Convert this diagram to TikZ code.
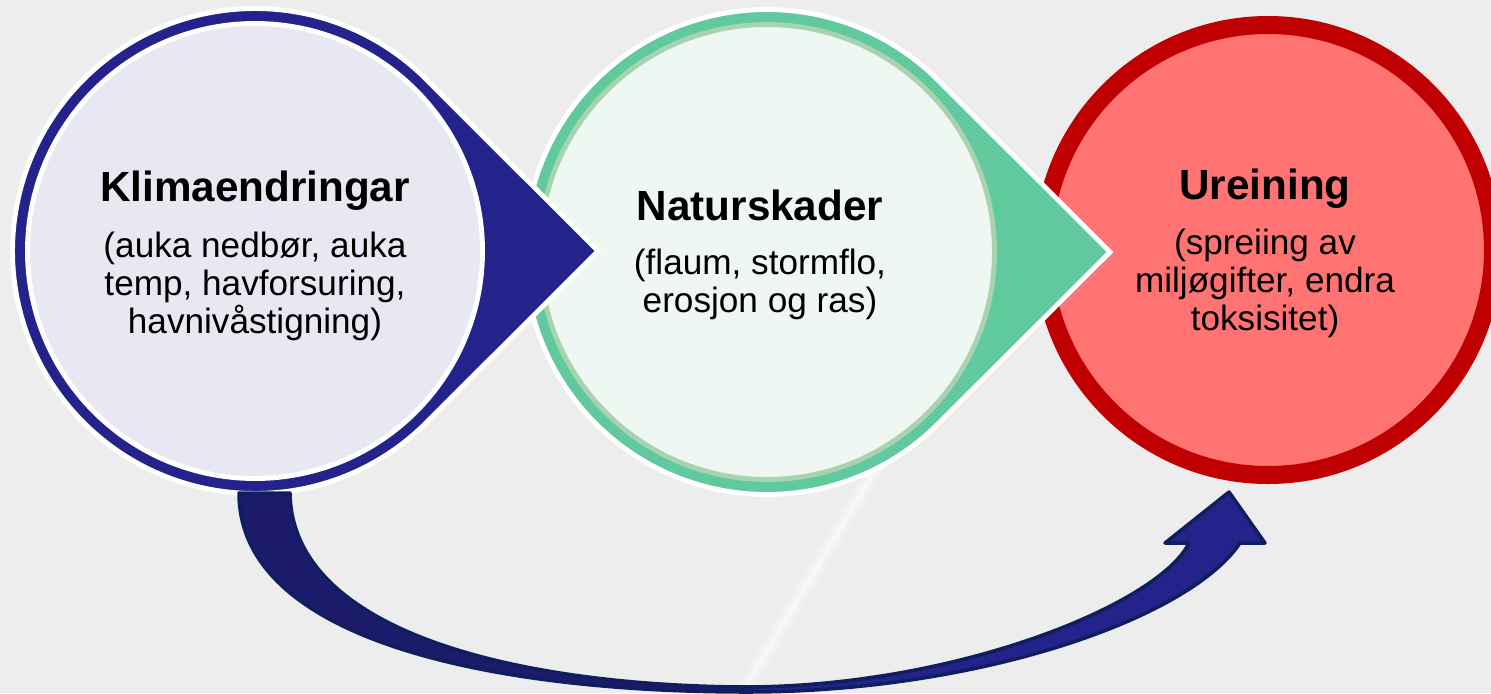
\documentclass[tikz,border=0pt]{standalone}
\usepackage{fontspec}
\setmainfont{Liberation Sans}
\usetikzlibrary{calc}
\definecolor{bgGray}{HTML}{EDEDED}
\definecolor{klimaBlue}{HTML}{23238B}
\definecolor{klimaDark}{HTML}{1C1A6B}
\definecolor{klimaFill}{HTML}{E8E8F2}
\definecolor{naturGreen}{HTML}{60C99E}
\definecolor{naturSage}{HTML}{A9D3AF}
\definecolor{naturFill}{HTML}{EEF7F1}
\definecolor{ureinRed}{HTML}{C00000}
\definecolor{ureinFill}{HTML}{FF7373}
\definecolor{arrowLine}{HTML}{0F1F5E}
\tikzstyle{title} = [font=\fontsize{12}{14}\selectfont\bfseries, inner sep=0pt]
\tikzstyle{sub} = [font=\fontsize{10}{10.8}\selectfont, align=center, inner sep=0pt]
\tikzstyle{rim} = [draw=white, line width=1.4pt, line join=miter]
% teardrop: circle with a point to the right
\newcommand{\drop}[2]{%
  \filldraw[fill=#2, rim] ($(#1)+(45:242.5)$) arc[start angle=45, end angle=315, radius=242.5]
    -- ($(#1)+(343,0)$) -- cycle;}

\begin{document}
\begin{tikzpicture}[x=0.01cm, y=0.01cm]
      \useasboundingbox (0,0) rectangle (1491,693);
      \fill[bgGray] (0,0) rectangle (1491,693);
      \draw[white, opacity=0.3, line width=4pt] (1010,450)--(742,0);
      \draw[white, opacity=0.4, line width=1.5pt] (1010,450)--(742,0);
      %%%%%%%%%%%%%%%%%%%%%%%%%%%%%%%%%%%%%%%
      \coordinate (c1) at (255,442);
      \coordinate (c2) at (767,441);
      \coordinate (c3) at (1268,443);
      % Ureining
      \filldraw[fill=ureinFill, draw=ureinRed, line width=0.18cm] (c3) circle[radius=225];
      % Naturskader
      \drop{c2}{naturGreen}
      \filldraw[fill=naturFill, draw=naturSage, line width=1.4pt] (c2) circle[radius=227.5];
      % Klimaendringar
      \drop{c1}{klimaBlue}
      \filldraw[fill=klimaFill, draw=white, line width=1.4pt] (c1) circle[radius=227.5];
      %%%%%%%%%%%%%%%%%%%%%%%%%%%%%%%%%%%%%%%
      \node[title] (klima) at (255,502) {Klimaendringar};
      \node[sub] (klimaSub) at (255,407) {(auka nedbør, auka\\temp, havforsuring,\\havnivåstigning)};
      \node[title] (natur) at (760,488) {Naturskader};
      \node[sub] (naturSub) at (760,409) {(flaum, stormflo,\\erosjon og ras)};
      \node[title] (urein) at (1265,504) {Ureining};
      \node[sub] (ureinSub) at (1265,410) {(spreiing av\\miljøgifter, endra\\toksisitet)};
      %%%%%%%%%%%%%%%%%%%%%%%%%%%%%%%%%%%%%%%
      % curved arrow klima -> urein
      \coordinate (arrOut) at (239,200);
      \coordinate (arrIn) at (290,200);
      \coordinate (arrLow) at (747,1);
      \coordinate (arrLowIn) at (747,6);
      \coordinate (shaftR) at (1240,150);
      \coordinate (shaftL) at (1189,150);
      \coordinate (headR) at (1265,150);
      \coordinate (headL) at (1165,150);
      \coordinate (headTip) at (1229,201);
      \fill[klimaDark] (arrOut) .. controls (239,50) and (500,1) .. (arrLow)
        -- (arrLowIn) .. controls (520,7) and (292,60) .. (arrIn) -- cycle;
      \fill[klimaBlue] (arrLow) .. controls (980,1) and (1190,75) .. (shaftR)
        -- (headR) -- (headTip) -- (headL) -- (shaftL)
        .. controls (1160,90) and (960,7) .. (arrLowIn) -- cycle;
      \draw[arrowLine, line width=1pt, line join=round] (arrOut) .. controls (239,50) and (500,1) .. (arrLow)
        .. controls (980,1) and (1190,75) .. (shaftR) -- (headR) -- (headTip) -- (headL) -- (shaftL)
        .. controls (1160,90) and (960,7) .. (arrLowIn) .. controls (520,7) and (292,60) .. (arrIn) -- cycle;
\end{tikzpicture}
\end{document}
